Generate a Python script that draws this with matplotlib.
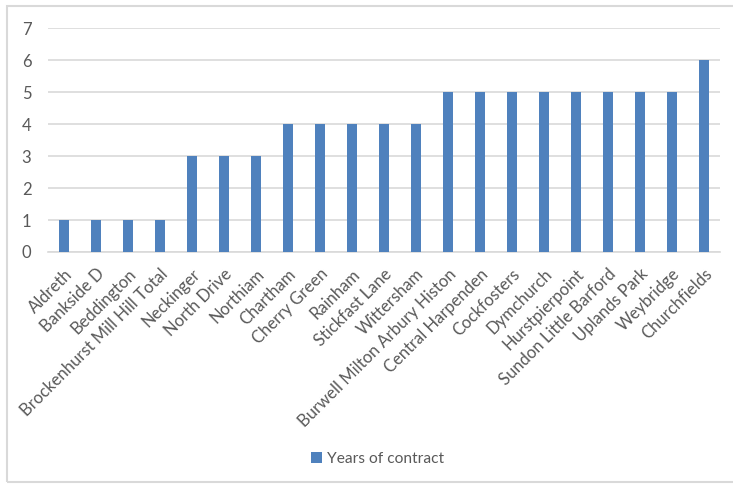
import matplotlib.pyplot as plt
from matplotlib.patches import Rectangle

sites = ["Aldreth", "Bankside D", "Beddington", "Brockenhurst Mill Hill Total",
         "Neckinger", "North Drive", "Northiam", "Chartham", "Cherry Green",
         "Rainham", "Stickfast Lane", "Wittersham", "Burwell Milton Arbury Histon",
         "Central Harpenden", "Cockfosters", "Dymchurch", "Hurstpierpoint",
         "Sundon Little Barford", "Uplands Park", "Weybridge", "Churchfields"]
years = [1, 1, 1, 1, 3, 3, 3, 4, 4, 4, 4, 4, 5, 5, 5, 5, 5, 5, 5, 5, 6]

plt.rcParams['font.family'] = ['Lato', 'DejaVu Sans']
text_col = "#595959"

fig = plt.figure(figsize=(7.33, 4.86), dpi=100)
ax = fig.add_axes([0.0655, 0.4815, 0.9165, 0.4605])

x = range(len(sites))
ax.bar(x, years, width=0.31, color="#4F81BD", label="Years of contract", zorder=3)

ax.set_xlim(-0.5, len(sites) - 0.5)
ax.set_ylim(0, 7)
ax.set_yticks(range(0, 8))
ax.yaxis.grid(True, color="#D9D9D9", linewidth=1.2, zorder=0)
ax.set_xticks(list(x))
ax.set_xticklabels(sites, rotation=45, ha="right", rotation_mode="anchor",
                   fontsize=12, color=text_col)
ax.tick_params(axis="y", labelsize=12, labelcolor=text_col, length=0, pad=12)
ax.tick_params(axis="x", length=0, pad=10)
for s in ["top", "right", "left"]:
    ax.spines[s].set_visible(False)
ax.spines["bottom"].set_color("#D9D9D9")
ax.spines["bottom"].set_linewidth(1.2)

fig.legend(loc="center", bbox_to_anchor=(0.515, 0.055), frameon=False,
           fontsize=11.2, labelcolor=text_col, handlelength=0.7,
           handleheight=0.7, handletextpad=0.3)

# light border round the chart
fig.patches.append(Rectangle((7 / 733, 0.008), 1.0, 0.98, transform=fig.transFigure,
                             fill=False, edgecolor="#D9D9D9", linewidth=1.5))

fig.savefig("out.png", dpi=100)
